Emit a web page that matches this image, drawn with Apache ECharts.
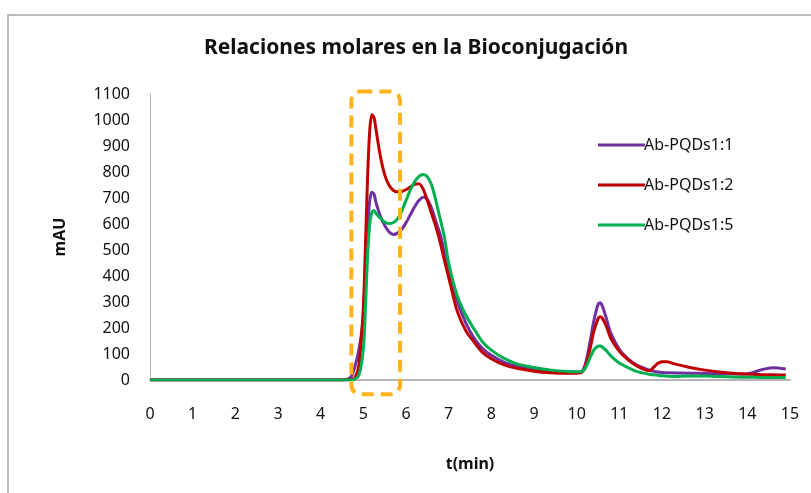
<!DOCTYPE html>
<html>
<head>
<meta charset="utf-8">
<script src="https://cdn.jsdelivr.net/npm/echarts@6/dist/echarts.min.js"></script>
<style>
  html, body { margin: 0; padding: 0; background: #fff; }
  #chart { width: 811px; height: 493px; }
</style>
</head>
<body>
<div id="chart"></div>
<script>
// tiempo (min) compartido por las tres curvas
const tiempo = [0, 4.5, 4.7, 4.8, 4.9, 5.0, 5.05, 5.1, 5.15, 5.2, 5.25, 5.3, 5.4, 5.5, 5.6, 5.7, 5.8, 5.9,
  6.0, 6.1, 6.2, 6.3, 6.4, 6.5, 6.6, 6.7, 6.8, 6.9, 7.0, 7.2, 7.4, 7.6, 7.8, 8.0, 8.3, 8.6, 9.0, 9.4, 9.8,
  10.1, 10.2, 10.3, 10.4, 10.5, 10.55, 10.6, 10.7, 10.8, 11.0, 11.2, 11.4, 11.7, 11.8, 11.9, 12.0, 12.1,
  12.3, 12.6, 13.0, 13.4, 13.9, 14.1, 14.3, 14.6, 14.9];

const ab11 = [0, 0, 10, 50, 120, 240, 400, 580, 690, 722, 715, 680, 630, 595, 570, 560, 565, 580,
  605, 635, 665, 690, 703, 695, 660, 610, 560, 490, 430, 305, 220, 160, 120, 95, 68, 52, 41, 34, 30,
  32, 60, 135, 225, 290, 297, 285, 235, 180, 118, 82, 58, 38, 34, 31, 29, 28,
  27, 26, 25, 24, 23, 27, 38, 47, 42];

const ab12 = [0, 0, 2, 8, 60, 280, 520, 780, 960, 1020, 1010, 960, 860, 790, 750, 730, 724, 725,
  732, 742, 752, 755, 735, 690, 640, 590, 530, 460, 395, 265, 190, 145, 105, 82, 58, 45, 34, 28, 26,
  28, 50, 110, 185, 235, 243, 238, 205, 160, 110, 78, 55, 36, 48, 63, 70, 70,
  62, 50, 38, 30, 23, 22, 21, 20, 19];

const ab15 = [0, 0, 0, 3, 20, 120, 280, 480, 600, 645, 652, 640, 622, 608, 602, 605, 620, 650,
  690, 730, 762, 782, 790, 782, 750, 690, 620, 550, 450, 325, 250, 195, 145, 115, 83, 62, 48, 38, 33,
  32, 45, 80, 115, 130, 131, 127, 112, 93, 65, 48, 33, 22, 20, 18, 16, 15,
  13, 15, 15, 13, 11, 11, 10, 10, 10];

const nombres = ['Ab-PQDs1:1', 'Ab-PQDs1:2', 'Ab-PQDs1:5'];
const colores = ['#7030A0', '#C00000', '#00B050'];

// recuadro naranja (min / mAU)
const recuadro = { x0: 4.72, x1: 5.86, y0: -55, y1: 1110 };

const fuente = '"Noto Sans", sans-serif';
const pares = vals => tiempo.map((t, i) => [t, vals[i]]);

const chart = echarts.init(document.getElementById('chart'));

const serie = (name, vals, color) => ({
  name,
  type: 'line',
  data: pares(vals),
  symbol: 'none',
  smooth: 0.3,
  lineStyle: { color, width: 3 },
  itemStyle: { color },
  z: 3
});

chart.setOption({
  animation: false,
  title: {
    text: 'Relaciones molares en la Bioconjugación',
    left: 411,
    textAlign: 'center',
    top: 33,
    textStyle: { fontFamily: fuente, fontSize: 21, fontWeight: 'bold', color: '#111' }
  },
  legend: {
    orient: 'vertical',
    left: 593,
    top: 132,
    icon: 'rect',
    itemWidth: 47,
    itemHeight: 3,
    itemGap: 24,
    textStyle: { fontFamily: fuente, fontSize: 16, color: '#111', padding: [0, 0, 0, -6] },
    data: nombres
  },
  grid: { left: 150, right: 21, top: 94, bottom: 113 },
  xAxis: {
    type: 'value',
    min: 0,
    max: 15,
    interval: 1,
    name: 't(min)',
    nameLocation: 'middle',
    nameGap: 76,
    nameTextStyle: { fontFamily: fuente, fontSize: 16, fontWeight: 'bold', color: '#111' },
    axisLine: { lineStyle: { color: '#B5B5B5', width: 2 } },
    axisTick: { show: false },
    splitLine: { show: false },
    axisLabel: { fontFamily: fuente, fontSize: 16, color: '#111', margin: 26 }
  },
  yAxis: {
    type: 'value',
    min: 0,
    max: 1100,
    interval: 100,
    name: 'mAU',
    nameLocation: 'middle',
    nameGap: 82,
    nameTextStyle: { fontFamily: fuente, fontSize: 16, fontWeight: 'bold', color: '#111' },
    axisLine: { show: true, lineStyle: { color: '#B5B5B5', width: 1 } },
    axisTick: { show: false },
    splitLine: { show: false },
    axisLabel: { fontFamily: fuente, fontSize: 16, color: '#111', margin: 20, formatter: v => String(v) }
  },
  series: [
    serie(nombres[0], ab11, colores[0]),
    serie(nombres[1], ab12, colores[1]),
    serie(nombres[2], ab15, colores[2])
  ]
});

// marco gris y recuadro discontinuo
const p0 = chart.convertToPixel({ gridIndex: 0 }, [recuadro.x0, recuadro.y1]);
const p1 = chart.convertToPixel({ gridIndex: 0 }, [recuadro.x1, recuadro.y0]);
chart.setOption({
  graphic: [
    {
      type: 'rect',
      shape: { x: 8, y: 15, width: 820, height: 500 },
      style: { fill: 'none', stroke: '#A6A6A6', lineWidth: 1.5 },
      z: 0
    },
    {
      type: 'rect',
      shape: { x: p0[0], y: p0[1], width: p1[0] - p0[0], height: p1[1] - p0[1], r: 9 },
      style: { fill: 'none', stroke: '#FFB319', lineWidth: 4, lineDash: [12, 7] },
      z: 10
    }
  ]
});

window.addEventListener('resize', () => chart.resize());
</script>
</body>
</html>
